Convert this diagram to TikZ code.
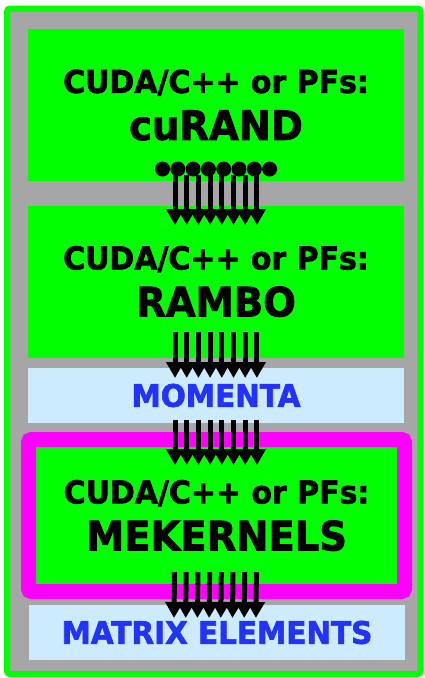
\documentclass[tikz,border=0pt]{standalone}
\usepackage{fontspec}
\setmainfont{DejaVu Sans}[BoldFeatures={FakeBold=2,FakeStretch=0.95}]
\usepackage{tikz}
\usepackage{xcolor}
\usetikzlibrary{arrows.meta}
\definecolor{cugreen}{HTML}{00FF00}
\definecolor{cugrey}{HTML}{A6A6A6}
\definecolor{cublue}{HTML}{CCEBFF}
\definecolor{cutext}{HTML}{2233FF}
\definecolor{cumag}{HTML}{FF00FF}

\begin{document}
\begin{tikzpicture}[x=1pt,y=-1pt]
\tikzstyle{every node}+=[inner sep=0pt,outer sep=0pt]
\tikzstyle{stage}=[fill=cugreen,minimum width=376pt,minimum height=152pt,align=center,font=\bfseries\fontsize{31.5}{47}\selectfont]
\tikzstyle{data}=[fill=cublue,minimum width=376pt,minimum height=55pt,text=cutext,font=\bfseries\fontsize{31}{34}\selectfont]
\tikzstyle{bus}=[line width=5pt,-{Triangle[width=17pt,length=16pt]}]
\useasboundingbox (0,0) rectangle (424,678);
\draw [cugreen,line width=6pt,fill=cugrey,rounded corners=3pt] (7,8.5) rectangle (420.5,674);
\node (rand) [stage] at (216,105) {CUDA/C++ or PFs:\\{\fontsize{40.5}{47}\selectfont cuRAND}};
\node (rambo) [stage] at (216,281.5) {CUDA/C++ or PFs:\\{\fontsize{40.5}{47}\selectfont RAMBO}};
\node (mom) [data] at (216,395.5) {MOMENTA};
\node (me) [stage,draw=cumag,line width=15pt,rounded corners=3pt] at (216.5,515.5) {CUDA/C++ or PFs:\\{\fontsize{40.5}{47}\selectfont MEKERNELS}};
\node (mat) [data] at (217,632.5) {MATRIX ELEMENTS};
\foreach \i in {0,...,7}
  \fill ([xshift=\i*15.3pt-53.5pt,yshift=12pt]rand.south) circle (7.5pt);
\foreach \i in {0,...,7} {
  \draw [bus] ([xshift=\i*11.7pt-41pt,yshift=6pt]rand.south) -- ([xshift=\i*11.7pt-41pt,yshift=-19.5pt]rambo.north);
  \draw [bus] ([xshift=\i*11.7pt-41pt,yshift=25.5pt]rambo.south) -- ([xshift=\i*11.7pt-41pt,yshift=-10pt]mom.north);
  \draw [bus] ([xshift=\i*11.7pt-41pt,yshift=3pt]mom.south) -- ([xshift=\i*11.7pt-41.5pt,yshift=-25.5pt]me.north);
  \draw [bus] ([xshift=\i*11.7pt-42pt,yshift=19.5pt]me.south) -- ([xshift=\i*11.7pt-43pt,yshift=-13pt]mat.north);
}
\end{tikzpicture}
\end{document}
